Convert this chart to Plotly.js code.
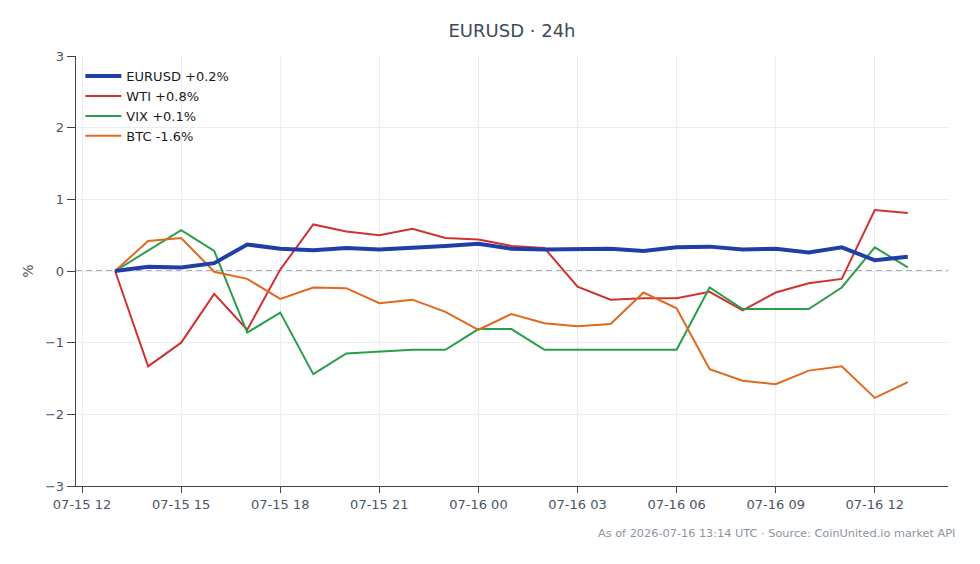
<!DOCTYPE html>
<html><head><meta charset="utf-8">
<script src="https://cdn.plot.ly/plotly-3.0.1.min.js"></script>
<style>html,body{margin:0;padding:0;background:#fff}#chart{width:980px;height:564px}</style>
</head><body><div id="chart"></div>
<script>
const times = ["2026-07-15 13:00","2026-07-15 14:00","2026-07-15 15:00","2026-07-15 16:00","2026-07-15 17:00","2026-07-15 18:00","2026-07-15 19:00","2026-07-15 20:00","2026-07-15 21:00","2026-07-15 22:00","2026-07-15 23:00","2026-07-16 00:00","2026-07-16 01:00","2026-07-16 02:00","2026-07-16 03:00","2026-07-16 04:00","2026-07-16 05:00","2026-07-16 06:00","2026-07-16 07:00","2026-07-16 08:00","2026-07-16 09:00","2026-07-16 10:00","2026-07-16 11:00","2026-07-16 12:00","2026-07-16 13:00"];
const eurusd = [0.00,0.06,0.05,0.11,0.37,0.31,0.29,0.32,0.30,0.32,0.35,0.38,0.31,0.30,0.31,0.31,0.28,0.33,0.34,0.30,0.31,0.26,0.33,0.15,0.20];
const wti = [0.00,-1.33,-1.00,-0.32,-0.82,0.02,0.65,0.55,0.50,0.59,0.46,0.44,0.35,0.32,-0.22,-0.40,-0.38,-0.38,-0.29,-0.55,-0.30,-0.17,-0.11,0.85,0.81];
const vix = [0.00,0.28,0.57,0.28,-0.86,-0.58,-1.44,-1.15,-1.12,-1.10,-1.10,-0.81,-0.81,-1.10,-1.10,-1.10,-1.10,-1.10,-0.23,-0.53,-0.53,-0.53,-0.23,0.33,0.05];
const btc = [0.00,0.42,0.46,-0.01,-0.11,-0.39,-0.23,-0.24,-0.45,-0.40,-0.57,-0.82,-0.60,-0.73,-0.77,-0.74,-0.30,-0.52,-1.37,-1.53,-1.58,-1.39,-1.33,-1.77,-1.55];
const names = ["EURUSD +0.2%","WTI +0.8%","VIX +0.1%","BTC -1.6%"];
const colors = ["#1f3fa6","#d03232","#2a9d4a","#e0691e"];
const widths = [4,2,2,2];
const series = [eurusd, wti, vix, btc];

const traces = series.map((s,i)=>({
  x: times, y: s, type:'scatter', mode:'lines', name:names[i],
  line:{color:colors[i], width:widths[i]}, legendrank:i+1
}));
const ordered = [traces[1],traces[2],traces[3],traces[0]];

const layout = {
  width:980, height:564,
  margin:{l:76, r:32, t:56, b:78},
  paper_bgcolor:'#fff', plot_bgcolor:'#fff',
  font:{family:'DejaVu Sans, sans-serif', size:13, color:'#4a5568'},
  title:{text:'EURUSD · 24h', x:0.5, xref:'paper', y:0.945, yanchor:'middle', font:{size:18, color:'#3d4a5c', family:'DejaVu Sans, sans-serif'}},
  showlegend:true,
  legend:{x:0.005, y:0.988, xanchor:'left', yanchor:'top', bgcolor:'rgba(255,255,255,0)', font:{size:13, color:'#1a1a1a'}, tracegroupgap:0, traceorder:'normal', itemwidth:36},
  xaxis:{
    type:'date', range:['2026-07-15 11:49','2026-07-16 14:13'],
    tick0:'2026-07-15 12:00', dtick:10800000, tickformat:'%m-%d %H',
    showgrid:true, gridcolor:'#ebedf0', gridwidth:1,
    showline:true, linecolor:'#3a4556', linewidth:1.3,
    ticks:'outside', ticklen:6, tickcolor:'#3a4556',
    zeroline:false, tickfont:{size:13, color:'#4a5568'}
  },
  yaxis:{
    range:[-3,3], dtick:1, tick0:0,
    showgrid:true, gridcolor:'#ebedf0', gridwidth:1,
    showline:true, linecolor:'#3a4556', linewidth:1.3,
    ticks:'outside', ticklen:8, tickcolor:'#3a4556',
    zeroline:false, tickfont:{size:13, color:'#4a5568'},
    title:{text:'%', font:{size:14, color:'#4a5568'}, standoff:8}
  },
  shapes:[{type:'line', xref:'paper', x0:0, x1:1, yref:'y', y0:0, y1:0, line:{color:'#8796ad', width:1.3, dash:'6px,4px'}, layer:'below'}],
  annotations:[{text:'As of 2026-07-16 13:14 UTC · Source: CoinUnited.io market API', xref:'paper', yref:'paper', x:1.01, y:-0.11, xanchor:'right', yanchor:'middle', showarrow:false, font:{size:11.3, color:'#8a94a0'}}]
};
Plotly.newPlot('chart', ordered, layout, {displayModeBar:false, staticPlot:true});
</script></body></html>
